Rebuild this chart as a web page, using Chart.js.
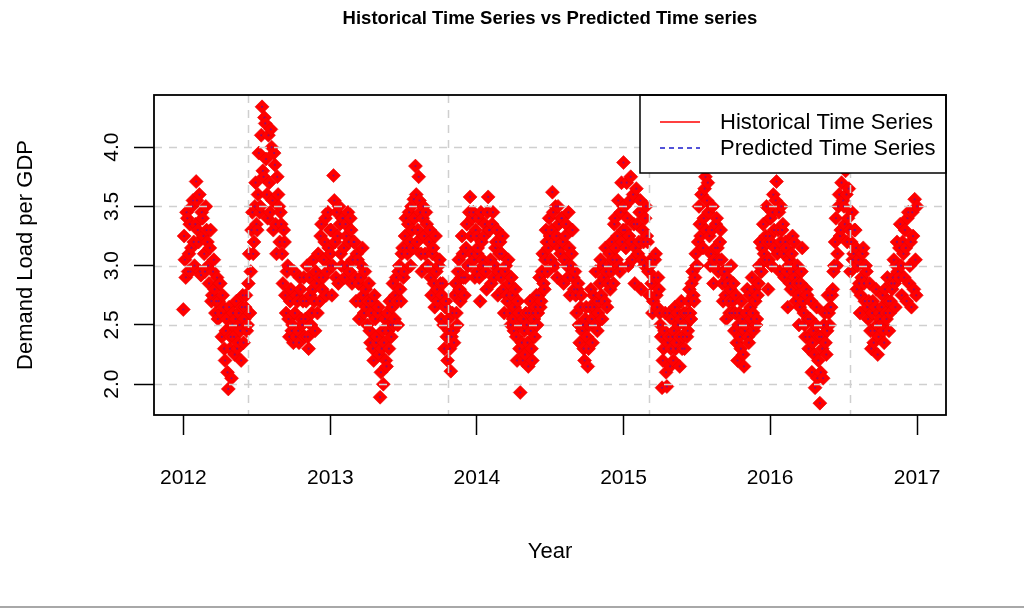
<!DOCTYPE html>
<html>
<head>
<meta charset="utf-8">
<script src="https://cdn.jsdelivr.net/npm/chart.js@4/dist/chart.umd.min.js"></script>
<style>
  html, body { margin: 0; padding: 0; background: #fff; }
  #wrap { width: 1024px; height: 608px; }
</style>
</head>
<body>
<div id="wrap"><canvas id="tsChart" width="1024" height="608"></canvas></div>
<script>
// Daily demand load per GDP.
// "a" arrays start on Jan 1, "b" arrays on Jan 3, both every 4 days.
const STEP_DAYS = 4;
const yearStartDays = [0, 366, 731, 1096, 1461];   // days since 2012-01-01

const hist2012a = [
    2.63, 3.05, 3.45, 2.95, 3.35, 3.15, 3.55, 3.0,      // Jan
    3.71, 3.3, 3.6, 2.92, 3.4, 3.1, 3.5,                // Feb
    3.2, 2.85, 3.3, 2.75, 3.05, 2.6, 2.9, 2.7,          // Mar
    2.85, 2.4, 2.65, 2.2, 2.55, 1.96, 2.3, 2.05,        // Apr
    2.6, 2.25, 2.7, 2.35, 2.5, 2.2, 2.75,               // May
    2.55, 2.75, 2.5, 3.1, 2.95, 3.45, 3.2, 3.7,         // Jun
    3.3, 3.95, 3.5, 4.34, 3.75, 4.2, 3.6,               // Jul
    4.1, 3.45, 4.0, 3.3, 3.85, 3.1, 3.6, 3.2,           // Aug
    3.35, 2.85, 3.2, 2.6, 3.0, 2.4, 2.8, 2.5,           // Sep
    2.95, 2.4, 2.7, 2.35, 2.8, 2.5, 2.9,                // Oct
    2.55, 3.0, 2.3, 2.75, 2.6, 3.05, 2.45, 2.85,        // Nov
    3.1, 2.7, 3.35, 2.9, 3.2, 2.75, 3.45, 3.0           // Dec
];
const hist2012b = [
    3.25, 2.9, 3.4, 3.1, 2.95, 3.5, 3.2, 3.35,
    3.55, 3.2, 2.95, 3.45, 3.25, 2.95, 3.3,
    3.0, 3.15, 2.7, 2.95, 2.8, 2.7, 2.55, 2.85,
    2.6, 2.75, 2.3, 2.45, 2.1, 2.65, 2.4, 2.5,
    2.4, 2.55, 2.3, 2.6, 2.45, 2.65, 2.35,
    2.65, 2.45, 2.85, 2.6, 3.3, 3.1, 3.5, 3.35,
    3.6, 3.45, 4.1, 3.8, 4.25, 3.9, 3.4,
    3.7, 4.15, 3.55, 3.95, 3.35, 3.75, 3.5, 3.45,
    3.1, 3.3, 2.75, 2.95, 2.55, 2.7, 2.45, 2.35,
    2.6, 2.75, 2.45, 2.9, 2.55, 2.7, 2.4,
    2.7, 2.4, 2.9, 2.5, 2.8, 2.7, 2.95, 2.6,
    2.9, 3.25, 2.8, 3.05, 3.4, 2.95, 3.15, 3.3
];
const hist2013a = [
    3.1, 2.75, 3.76, 3.2, 3.45, 2.85, 3.35, 3.0,
    3.4, 2.9, 3.25, 3.45, 2.95, 3.3, 3.05,
    3.2, 2.7, 3.05, 2.55, 2.9, 3.15, 2.6, 2.8,
    2.5, 2.85, 2.35, 2.7, 2.2, 2.55, 2.4, 2.65,
    1.89, 2.3, 2.0, 2.55, 2.15, 2.45, 2.7,
    2.4, 2.85, 2.55, 2.9, 2.5, 3.0, 2.7, 3.15,
    2.95, 3.4, 3.1, 3.45, 3.0, 3.3, 3.56,
    3.84, 3.2, 3.75, 3.45, 2.95, 3.5, 3.1, 3.35,
    3.0, 3.3, 2.75, 3.15, 2.65, 2.95, 2.7, 3.05,
    2.55, 2.85, 2.3, 2.7, 2.2, 2.45, 2.11,
    2.6, 2.35, 2.85, 2.5, 3.05, 2.7, 3.25, 2.9,
    2.9, 3.35, 3.0, 3.58, 3.1, 3.45, 2.9, 3.25
];
const hist2013b = [
    3.3, 3.0, 3.55, 2.9, 3.25, 3.5, 3.1, 3.4,
    3.15, 3.35, 3.0, 3.2, 3.4, 2.85, 3.2,
    2.9, 3.1, 2.85, 2.7, 3.0, 2.75, 2.95, 2.65,
    2.7, 2.45, 2.6, 2.3, 2.75, 2.35, 2.6, 2.25,
    2.1, 2.45, 2.35, 2.2, 2.6, 2.3, 2.5,
    2.65, 2.5, 2.75, 2.7, 2.95, 2.8, 3.1, 2.9,
    3.25, 3.15, 3.35, 3.2, 3.5, 3.15, 3.4,
    3.6, 3.3, 3.55, 3.1, 3.4, 3.25, 3.45, 3.0,
    3.2, 2.9, 3.1, 2.85, 3.25, 2.8, 3.0, 2.85,
    2.75, 2.5, 2.65, 2.4, 2.55, 2.3, 2.4,
    2.45, 2.75, 2.6, 2.95, 2.8, 2.9, 3.1, 2.75,
    3.15, 3.0, 3.45, 3.25, 3.4, 3.05, 3.3, 3.1
];
const hist2014a = [
    2.95, 3.4, 2.7, 3.2, 3.0, 3.35, 2.8, 3.58,
    3.3, 2.85, 3.45, 3.0, 3.2, 2.75, 3.1,
    2.9, 3.25, 2.6, 3.0, 2.7, 2.85, 2.5, 2.75,
    2.45, 2.8, 2.2, 2.6, 1.93, 2.35, 2.55, 2.25,
    2.5, 2.15, 2.7, 2.3, 2.6, 2.4, 2.75,
    2.6, 2.9, 2.7, 3.1, 2.8, 3.3, 2.95, 3.4,
    3.05, 3.62, 3.2, 3.5, 2.9, 3.35, 3.1,
    3.4, 2.85, 3.25, 3.0, 3.45, 2.75, 3.1, 2.9,
    2.95, 2.6, 2.85, 2.35, 2.75, 2.5, 2.2, 2.65,
    2.15, 2.5, 2.8, 2.35, 2.65, 2.95, 2.45,
    2.7, 3.05, 2.55, 2.9, 3.15, 2.65, 3.0, 2.8,
    3.2, 2.85, 3.4, 3.05, 3.55, 2.95, 3.7, 3.3
];
const hist2014b = [
    3.15, 2.9, 3.45, 3.05, 3.25, 2.95, 3.45, 3.3,
    3.05, 3.35, 2.9, 3.15, 3.3, 2.95, 3.2,
    3.1, 2.8, 2.95, 2.75, 3.05, 2.6, 2.9, 2.55,
    2.65, 2.4, 2.7, 2.3, 2.5, 2.2, 2.45, 2.6,
    2.35, 2.6, 2.45, 2.2, 2.55, 2.65, 2.5,
    2.75, 2.65, 2.95, 2.85, 3.05, 3.2, 3.15, 3.25,
    3.3, 3.45, 3.0, 3.25, 3.5, 3.15, 3.4,
    3.2, 3.05, 3.35, 2.9, 3.15, 3.0, 3.3, 2.8,
    2.75, 2.8, 2.5, 2.65, 2.45, 2.3, 2.55, 2.4,
    2.3, 2.65, 2.55, 2.75, 2.5, 2.7, 2.6,
    2.85, 2.75, 3.0, 2.7, 2.95, 2.85, 3.1, 2.95,
    3.05, 3.35, 3.15, 3.25, 3.0, 3.45, 3.2, 3.5
];
const hist2015a = [
    3.87, 3.3, 3.7, 3.0, 3.55, 3.2, 3.6, 2.85,
    3.65, 3.1, 3.45, 2.8, 3.3, 3.0, 3.5,
    3.2, 2.75, 3.05, 2.6, 2.9, 3.1, 2.65, 2.8,
    2.5, 1.97, 2.3, 2.6, 1.98, 2.4, 2.15, 2.55,
    2.2, 2.65, 2.35, 2.5, 2.15, 2.7, 2.4,
    2.3, 2.6, 2.45, 2.8, 2.55, 2.95, 2.7, 3.1,
    3.0, 3.5, 3.25, 3.85, 3.4, 3.75, 3.55,
    3.45, 3.0, 3.3, 2.85, 3.15, 3.4, 2.95, 3.2,
    3.05, 2.7, 2.95, 2.55, 2.85, 2.6, 3.0, 2.7,
    2.45, 2.75, 2.2, 2.6, 2.3, 2.55, 2.15,
    2.5, 2.8, 2.35, 2.65, 2.9, 2.45, 2.7, 2.55,
    2.85, 3.2, 2.95, 3.35, 3.05, 3.5, 2.8, 3.25
];
const hist2015b = [
    3.5, 3.15, 3.4, 3.25, 3.75, 3.05, 3.35, 3.15,
    3.35, 3.2, 3.55, 3.05, 3.2, 3.4, 3.25,
    2.95, 3.0, 2.85, 2.7, 3.05, 2.75, 2.9, 2.6,
    2.4, 2.2, 2.45, 2.1, 2.35, 2.6, 2.3, 2.4,
    2.45, 2.3, 2.6, 2.4, 2.55, 2.3, 2.6,
    2.5, 2.4, 2.7, 2.6, 2.85, 2.75, 2.9, 3.0,
    3.2, 3.35, 3.6, 3.15, 3.65, 3.3, 3.7,
    3.25, 3.1, 3.5, 3.05, 3.35, 3.15, 3.05, 3.3,
    2.85, 2.95, 2.75, 2.9, 2.7, 2.8, 2.6, 2.85,
    2.6, 2.35, 2.5, 2.4, 2.7, 2.25, 2.45,
    2.6, 2.4, 2.75, 2.55, 2.6, 2.8, 2.5, 2.75,
    3.0, 2.95, 3.15, 3.1, 3.25, 3.2, 3.05, 3.4
];
const hist2016a = [
    3.4, 3.0, 3.6, 3.15, 3.71, 3.3, 2.95, 3.5,
    3.35, 2.9, 3.15, 2.65, 3.05, 2.8, 3.25,
    3.2, 2.7, 3.0, 2.5, 2.85, 3.15, 2.6, 2.4,
    2.75, 2.3, 2.55, 2.1, 2.45, 1.97, 2.65, 2.2,
    1.84, 2.4, 2.05, 2.6, 2.25, 2.75, 2.5,
    2.65, 2.8, 3.0, 3.4, 3.1, 3.6, 3.3, 3.85,
    3.5, 3.8, 3.2, 3.65, 2.95, 3.45, 3.1,
    3.3, 2.8, 3.05, 2.6, 2.9, 3.15, 2.7, 2.95,
    2.55, 2.85, 2.3, 2.7, 2.45, 2.8, 2.25, 2.6,
    2.5, 2.75, 2.35, 2.6, 2.9, 2.45, 2.7,
    2.8, 3.05, 2.65, 3.2, 2.9, 3.35, 2.75, 3.1,
    3.3, 2.7, 3.45, 3.0, 2.65, 3.25, 3.56, 2.75
];
const hist2016b = [
    3.2, 3.45, 3.3, 3.55, 3.1, 3.45, 3.2, 3.3,
    3.1, 3.2, 2.95, 3.0, 2.85, 3.1, 2.95,
    2.9, 2.85, 2.75, 2.65, 2.95, 2.7, 2.5, 2.8,
    2.55, 2.4, 2.7, 2.35, 2.25, 2.5, 2.05, 2.4,
    2.1, 2.3, 2.5, 2.35, 2.45, 2.6, 2.65,
    2.75, 2.95, 3.2, 3.0, 3.5, 3.25, 3.7, 3.55,
    3.35, 3.6, 3.4, 3.3, 3.2, 3.05, 3.3,
    3.15, 3.0, 2.85, 2.75, 3.1, 2.85, 3.0, 2.65,
    2.7, 2.45, 2.6, 2.35, 2.65, 2.5, 2.4, 2.55,
    2.65, 2.45, 2.8, 2.55, 2.7, 2.6, 2.85,
    2.9, 2.85, 3.0, 2.95, 3.15, 3.0, 3.2, 2.9,
    3.15, 3.4, 2.85, 3.2, 3.45, 2.8, 3.05, 3.5
];
const seriesA = [hist2012a, hist2013a, hist2014a, hist2015a, hist2016a];
const seriesB = [hist2012b, hist2013b, hist2014b, hist2015b, hist2016b];

// Axis ticks
const xTickDays = [0, 366, 731, 1096, 1461, 1827];
const xTickLabels = ['2012', '2013', '2014', '2015', '2016', '2017'];
const yTickValues = [2.0, 2.5, 3.0, 3.5, 4.0];
const yTickLabels = ['2.0', '2.5', '3.0', '3.5', '4.0'];
// grid() lines sit on the day-number ticks (15500, 16000, ... days since 1970)
const xGridDays = [160, 660, 1160, 1660];

const X_MIN = -73, X_MAX = 1899;
const Y_MIN = 1.74, Y_MAX = 4.44;
const FONT = "'Liberation Sans', Arial, Helvetica, sans-serif";

function buildPoints() {
    const pts = [];
    yearStartDays.forEach((start, k) => {
        seriesA[k].forEach((v, i) => pts.push({ x: start + i * STEP_DAYS, y: v }));
        seriesB[k].forEach((v, i) => pts.push({ x: start + 2 + i * STEP_DAYS, y: v }));
    });
    return pts.sort((p, q) => p.x - q.x);
}

const historical = buildPoints();

// Dashed grid, box, titles and legend the way base R draws them
const rDecor = {
    id: 'rDecor',
    afterDatasetsDraw(chart) {
        const { ctx, chartArea: a, scales: { x, y } } = chart;
        ctx.save();
        ctx.strokeStyle = '#cfcfcf';
        ctx.lineWidth = 1.5;
        ctx.setLineDash([8, 7]);
        yTickValues.forEach(v => {
            const py = Math.round(y.getPixelForValue(v)) + 0.5;
            ctx.beginPath(); ctx.moveTo(a.left, py); ctx.lineTo(a.right, py); ctx.stroke();
        });
        xGridDays.forEach(d => {
            const px = Math.round(x.getPixelForValue(d)) + 0.5;
            ctx.beginPath(); ctx.moveTo(px, a.top); ctx.lineTo(px, a.bottom); ctx.stroke();
        });
        ctx.restore();
    },
    afterDraw(chart) {
        const { ctx, chartArea: a, scales: { y } } = chart;
        ctx.save();

        // legend box (opaque, covers points)
        const lw = 306, lh = 78;
        const lx = a.right - lw, ly = a.top;
        ctx.fillStyle = '#fff';
        ctx.fillRect(lx, ly, lw, lh);
        ctx.strokeStyle = '#000';
        ctx.lineWidth = 1.5;
        ctx.strokeRect(lx, ly, lw, lh);

        ctx.lineWidth = 1.5;
        ctx.strokeStyle = '#ff0000';
        ctx.beginPath(); ctx.moveTo(lx + 20, ly + 27); ctx.lineTo(lx + 60, ly + 27); ctx.stroke();
        ctx.strokeStyle = '#1a1acc';
        ctx.setLineDash([5, 4]);
        ctx.beginPath(); ctx.moveTo(lx + 20, ly + 53); ctx.lineTo(lx + 60, ly + 53); ctx.stroke();
        ctx.setLineDash([]);

        ctx.fillStyle = '#000';
        ctx.font = '22px ' + FONT;
        ctx.textAlign = 'left';
        ctx.textBaseline = 'middle';
        ctx.fillText('Historical Time Series', lx + 80, ly + 28);
        ctx.fillText('Predicted Time Series', lx + 80, ly + 54);

        // plot box
        ctx.strokeStyle = '#000';
        ctx.lineWidth = 1.8;
        ctx.strokeRect(a.left, a.top, a.right - a.left, a.bottom - a.top);

        // y tick labels, rotated as in R (las = 0)
        ctx.font = '21px ' + FONT;
        ctx.textAlign = 'center';
        ctx.textBaseline = 'middle';
        yTickValues.forEach((v, i) => {
            ctx.save();
            ctx.translate(a.left - 42, y.getPixelForValue(v));
            ctx.rotate(-Math.PI / 2);
            ctx.fillText(yTickLabels[i], 0, 0);
            ctx.restore();
        });

        // axis titles
        ctx.font = '22px ' + FONT;
        ctx.fillText('Year', (a.left + a.right) / 2, 552);
        ctx.save();
        ctx.translate(26, (a.top + a.bottom) / 2);
        ctx.rotate(-Math.PI / 2);
        ctx.fillText('Demand Load per GDP', 0, 0);
        ctx.restore();

        // main title
        ctx.font = 'bold 18.5px ' + FONT;
        ctx.fillText('Historical Time Series vs Predicted Time series', (a.left + a.right) / 2, 19);

        // bottom edge of the exported picture
        ctx.fillStyle = '#a8a8a8';
        ctx.fillRect(0, 606, 1024, 2);
        ctx.restore();
    }
};

const config = {
    type: 'scatter',
    data: {
        datasets: [
            {
                label: 'Predicted Time Series',
                data: historical,
                pointStyle: 'circle',
                pointRadius: 1.1,
                backgroundColor: 'rgba(70,20,190,0.55)',
                borderWidth: 0,
                order: 0
            },
            {
                label: 'Historical Time Series',
                data: historical,
                pointStyle: 'rectRot',
                pointRadius: 7,
                backgroundColor: '#ff0000',
                borderColor: '#e80000',
                borderWidth: 0.6,
                order: 1
            }
        ]
    },
    options: {
        responsive: false,
        animation: false,
        devicePixelRatio: 1,
        layout: { padding: { left: 0, top: 95, right: 78, bottom: 0 } },
        plugins: {
            legend: { display: false },
            title: { display: false },
            tooltip: { enabled: false }
        },
        scales: {
            x: {
                type: 'linear',
                min: X_MIN,
                max: X_MAX,
                afterBuildTicks(scale) {
                    scale.ticks = xTickDays.map(v => ({ value: v }));
                },
                afterFit(scale) { scale.height = 193; },
                ticks: {
                    autoSkip: false,
                    maxRotation: 0,
                    padding: 31,
                    color: '#000',
                    font: { family: FONT, size: 21 },
                    callback: (value, idx) => xTickLabels[idx]
                },
                grid: {
                    drawOnChartArea: false,
                    drawTicks: true,
                    tickLength: 20,
                    tickColor: '#000',
                    tickWidth: 1.5
                },
                border: { display: false }
            },
            y: {
                type: 'linear',
                min: Y_MIN,
                max: Y_MAX,
                afterBuildTicks(scale) {
                    scale.ticks = yTickValues.map(v => ({ value: v }));
                },
                afterFit(scale) { scale.width = 154; },
                ticks: { display: false },
                grid: {
                    drawOnChartArea: false,
                    drawTicks: true,
                    tickLength: 20,
                    tickColor: '#000',
                    tickWidth: 1.5
                },
                border: { display: false }
            }
        }
    },
    plugins: [rDecor]
};

const chart = new Chart(document.getElementById('tsChart').getContext('2d'), config);
</script>
</body>
</html>
